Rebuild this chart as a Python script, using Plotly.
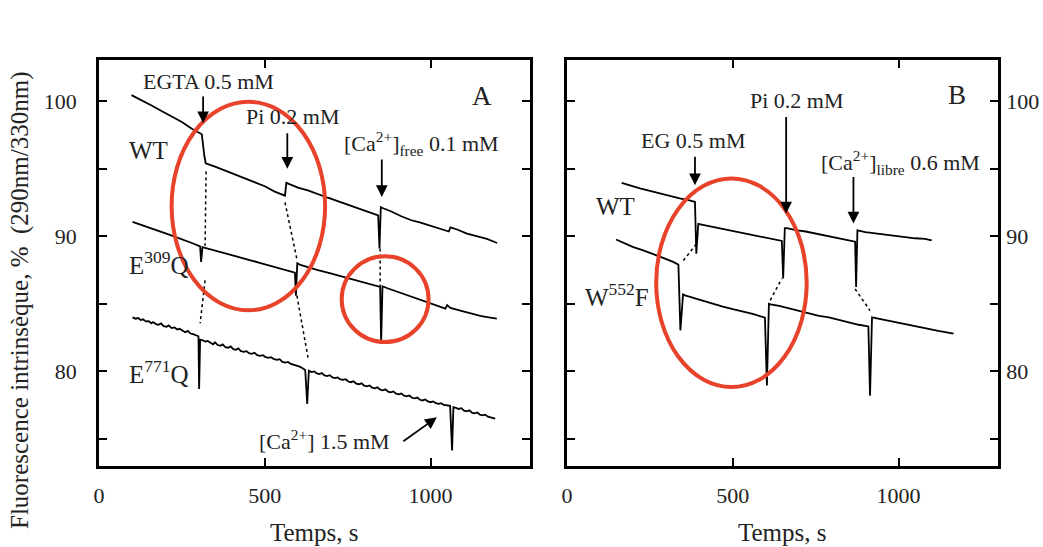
import plotly.graph_objects as go

# ---------------- data ----------------
# Panel A
a_wt_t = [98, 130, 160, 190, 220, 250, 280, 305, 310, 318, 322, 350, 380, 410, 440, 470, 500, 530, 561,
          565, 575, 600, 630, 660, 690, 720, 750, 780, 810, 842, 846, 850, 857, 880, 910, 940, 970, 1000,
          1030, 1055, 1060, 1080, 1110, 1140, 1170, 1201]
a_wt_f = [100.44, 100.05, 99.65, 99.25, 98.85, 98.45, 97.95, 97.6, 97.55, 95.9, 95.4, 95.15, 94.85, 94.55,
          94.3, 93.95, 93.7, 93.3, 93.0, 93.95, 93.85, 93.6, 93.4, 93.1, 92.85, 92.6, 92.35, 92.1, 91.8,
          91.55, 89.1, 92.15, 92.07, 91.85, 91.5, 91.2, 91.0, 90.75, 90.55, 90.35, 90.65, 90.5, 90.2, 90.0,
          89.8, 89.5]

a_e309_t = [101, 130, 160, 190, 220, 250, 280, 305, 308, 312, 340, 370, 400, 430, 460, 490, 520, 550, 591,
            594, 598, 605, 630, 660, 690, 720, 750, 780, 810, 848, 851, 855, 870, 900, 930, 960, 990, 1020,
            1045, 1050, 1060, 1090, 1120, 1150, 1175, 1200]
a_e309_f = [91.06, 90.8, 90.55, 90.3, 90.05, 89.8, 89.5, 89.25, 88.1, 89.2, 89.0, 88.8, 88.6, 88.4, 88.2,
            88.0, 87.8, 87.6, 87.3, 85.6, 88.0, 87.9, 87.7, 87.5, 87.3, 87.1, 86.9, 86.7, 86.5, 86.25, 82.05,
            86.3, 86.15, 85.9, 85.6, 85.35, 85.1, 84.85, 84.65, 84.9, 84.7, 84.5, 84.3, 84.1, 84.0, 83.9]

a_e771_t = [101, 110, 118, 126, 133, 141, 150, 158, 163, 172, 180, 187, 195, 204, 210, 219, 228, 236, 243,
            252, 260, 268, 276, 284, 292, 300, 302, 305, 313, 321, 328, 336, 344, 350, 358, 366, 373, 381,
            390, 397, 405, 413, 420, 428, 437, 445, 452, 461, 469, 477, 486, 494, 503, 511, 519, 528, 537,
            545, 553, 562, 570, 579, 588, 596, 605, 613, 622, 628, 633, 641, 649, 657, 665, 672, 680, 688,
            696, 704, 712, 720, 728, 736, 744, 752, 760, 768, 776, 784, 792, 800, 808, 816, 824, 832, 840,
            848, 856, 864, 872, 880, 888, 896, 904, 912, 920, 928, 936, 944, 952, 960, 968, 976, 984, 992,
            1000, 1008, 1016, 1024, 1032, 1040, 1048, 1059, 1065, 1069, 1077, 1085, 1093, 1101, 1109, 1117,
            1125, 1133, 1141, 1149, 1157, 1165, 1173, 1181, 1189, 1195]
a_e771_f = [84.0, 83.9, 83.95, 83.8, 83.85, 83.7, 83.72, 83.55, 83.65, 83.5, 83.45, 83.55, 83.35, 83.3,
            83.4, 83.2, 83.25, 83.1, 83.15, 83.0, 82.9, 83.0, 82.8, 82.75, 82.65, 82.6, 78.7, 82.35, 82.3,
            82.2, 82.25, 82.1, 82.0, 82.15, 81.95, 81.9, 82.0, 81.8, 81.75, 81.85, 81.65, 81.6, 81.7, 81.5,
            81.45, 81.5, 81.35, 81.3, 81.38, 81.2, 81.15, 81.2, 81.05, 81.0, 81.05, 80.9, 80.85, 80.9, 80.7,
            80.65, 80.7, 80.55, 80.5, 80.4, 80.35, 80.25, 80.1, 77.6, 80.05, 79.95, 80.0, 79.85, 79.8, 79.88,
            79.7, 79.65, 79.72, 79.55, 79.5, 79.55, 79.4, 79.38, 79.42, 79.25, 79.2, 79.27, 79.1, 79.05,
            79.12, 78.95, 78.9, 78.96, 78.8, 78.75, 78.82, 78.65, 78.6, 78.67, 78.5, 78.45, 78.52, 78.35,
            78.3, 78.36, 78.2, 78.15, 78.22, 78.05, 78.0, 78.06, 77.9, 77.85, 77.92, 77.78, 77.72, 77.78,
            77.65, 77.6, 77.65, 77.52, 77.5, 77.45, 74.15, 77.35, 77.3, 77.22, 77.28, 77.1, 77.05, 77.12,
            76.95, 76.9, 76.96, 76.8, 76.75, 76.8, 76.65, 76.6, 76.55, 76.5]

# Panel B
b_wt_t = [165, 190, 220, 250, 280, 310, 340, 370, 386, 390, 396, 399, 430, 460, 490, 520, 550, 580, 610,
          648, 652, 657, 663, 690, 720, 750, 780, 810, 840, 869, 872, 876, 900, 930, 960, 990, 1020, 1050,
          1080, 1100]
b_wt_f = [93.95, 93.75, 93.55, 93.35, 93.15, 93.0, 92.8, 92.65, 92.54, 88.7, 90.95, 90.9, 90.75, 90.6,
          90.45, 90.3, 90.15, 90.0, 89.85, 89.65, 86.87, 90.6, 90.6, 90.45, 90.35, 90.2, 90.05, 89.95, 89.8,
          89.6, 86.25, 90.44, 90.3, 90.2, 90.1, 90.0, 89.95, 89.85, 89.8, 89.7]

b_w552_t = [148, 170, 200, 230, 260, 290, 320, 336, 342, 350, 356, 380, 410, 440, 470, 500, 530, 560, 597,
            603, 609, 614, 640, 670, 700, 730, 760, 790, 820, 850, 880, 909, 914, 920, 924, 960, 1000, 1040,
            1080, 1120, 1166]
b_w552_f = [89.76, 89.5, 89.2, 88.95, 88.7, 88.4, 88.1, 87.9, 83.04, 85.7, 85.63, 85.45, 85.2, 85.0, 84.8,
            84.6, 84.45, 84.25, 83.98, 78.96, 85.0, 84.96, 84.85, 84.65, 84.45, 84.3, 84.1, 84.0, 83.8, 83.6,
            83.45, 83.33, 78.2, 84.0, 83.98, 83.8, 83.6, 83.35, 83.2, 83.0, 82.8]

# dotted connector segments (t pairs, F pairs)
a_dots = [([323, 320], [94.8, 89.3]), ([320, 305], [86.74, 83.56]), ([561, 597], [92.5, 88.3]),
          ([597, 632], [85.6, 80.8]), ([848, 848], [89.1, 86.3])]
b_dots = [([351, 391], [88.2, 89.46]), ([613, 648], [85.26, 86.87]), ([869, 914], [86.1, 84.5])]

# red ellipses (t0, t1, F0, F1)
a_ellipses = [(219, 682, 84.52, 99.95), (732, 994, 82.17, 88.52)]
b_ellipses = [(269, 723, 78.84, 94.27)]

x_ticks = [0, 500, 1000]
y_ticks = [75, 80, 85, 90, 95, 100]
y_ticktext = ["", "80", "", "90", "", "100"]

# ---------------- figure ----------------
W, H = 1043, 547
SERIF = "Liberation Serif, Times New Roman, serif"
RED = "#E8432A"

fig = go.Figure()

def add_line(t, f, xa, ya):
    fig.add_trace(go.Scatter(x=t, y=f, mode="lines", xaxis=xa, yaxis=ya,
                             line=dict(color="black", width=1.8), hoverinfo="skip", showlegend=False))

for t, f in [(a_wt_t, a_wt_f), (a_e309_t, a_e309_f), (a_e771_t, a_e771_f)]:
    add_line(t, f, "x", "y")
for t, f in [(b_wt_t, b_wt_f), (b_w552_t, b_w552_f)]:
    add_line(t, f, "x2", "y2")

for t, f in a_dots:
    fig.add_trace(go.Scatter(x=t, y=f, mode="lines", xaxis="x", yaxis="y",
                             line=dict(color="black", width=1.5, dash="dot"), hoverinfo="skip", showlegend=False))
for t, f in b_dots:
    fig.add_trace(go.Scatter(x=t, y=f, mode="lines", xaxis="x2", yaxis="y2",
                             line=dict(color="black", width=1.5, dash="dot"), hoverinfo="skip", showlegend=False))

for x0, x1, y0, y1 in a_ellipses:
    fig.add_shape(type="circle", xref="x", yref="y", x0=x0, x1=x1, y0=y0, y1=y1,
                  line=dict(color=RED, width=4))
for x0, x1, y0, y1 in b_ellipses:
    fig.add_shape(type="circle", xref="x2", yref="y2", x0=x0, x1=x1, y0=y0, y1=y1,
                  line=dict(color=RED, width=4))

def txt(x, y, s, xr, yr, size=22, **kw):
    fig.add_annotation(x=x, y=y, xref=xr, yref=yr, text=s, showarrow=False,
                       font=dict(family=SERIF, size=size, color="#222"), **kw)

def arrow(x, y, ax, ay, xr, yr):
    fig.add_annotation(x=x, y=y, xref=xr, yref=yr, text="", showarrow=True, ax=ax, ay=ay,
                       arrowhead=2, arrowsize=1.3, arrowwidth=1.8, arrowcolor="black")

# Panel A texts
txt(329, 101.43, "EGTA 0.5 mM", "x", "y")
arrow(314, 98.37, 0, -28, "x", "y")
txt(585, 98.84, "Pi 0.2 mM", "x", "y")
arrow(568, 95.0, 0, -37, "x", "y")
txt(974, 96.87, "[Ca<sup>2+</sup>]<sub>free</sub> 0.1 mM", "x", "y")
arrow(853, 92.9, 0, -39, "x", "y")
txt(1155, 100.37, "A", "x", "y", size=27)
txt(148, 96.37, "WT", "x", "y", size=25)
txt(182, 88.05, "E<sup>309</sup>Q", "x", "y", size=25)
txt(182, 79.95, "E<sup>771</sup>Q", "x", "y", size=25)
txt(679, 74.89, "[Ca<sup>2+</sup>] 1.5 mM", "x", "y")
arrow(1019, 76.6, -35, 25, "x", "y")

# Panel B texts
txt(1176, 100.44, "B", "x2", "y2", size=27)
txt(693, 100.07, "Pi 0.2 mM", "x2", "y2")
arrow(661, 91.68, 0, -98, "x2", "y2")
txt(381, 97.11, "EG 0.5 mM", "x2", "y2")
arrow(386, 93.78, 0, -30, "x2", "y2")
txt(1007, 95.43, "[Ca<sup>2+</sup>]<sub>libre</sub> 0.6 mM", "x2", "y2")
arrow(864, 90.94, 0, -48, "x2", "y2")
txt(145, 92.17, "WT", "x2", "y2", size=25)
txt(150, 85.63, "W<sup>552</sup>F", "x2", "y2", size=25)

# axis titles
for cx in (314.5, 782.5):
    fig.add_annotation(x=cx / W, y=1 - 532 / H, xref="paper", yref="paper", text="Temps, s",
                       xanchor="center", yanchor="middle",
                       showarrow=False, font=dict(family=SERIF, size=25, color="#222"))
fig.add_annotation(x=20 / W, y=1 - 300 / H, xref="paper", yref="paper",
                   text="Fluorescence intrinsèque, %\u00a0\u00a0(290nm/330nm)", textangle=-90,
                   xanchor="center", yanchor="middle",
                   showarrow=False, font=dict(family=SERIF, size=25, color="#222"))

ydom = [(H - 466) / H, (H - 60) / H]
common_x = dict(range=[0, 1300], tickvals=x_ticks, ticks="inside", ticklen=8, tickwidth=2,
                showline=True, linewidth=2.5, linecolor="black", mirror="ticks", showgrid=False,
                zeroline=False, tickfont=dict(family=SERIF, size=22, color="#222"),
                ticklabelstandoff=8, tickcolor="black", automargin=False)
common_y = dict(range=[73, 103.04], tickvals=y_ticks, ticktext=y_ticktext, ticks="inside", ticklen=8,
                tickwidth=2, showline=True, linewidth=2.5, linecolor="black", mirror="ticks",
                showgrid=False, zeroline=False, tickfont=dict(family=SERIF, size=22, color="#222"),
                tickcolor="black", domain=ydom, automargin=False)

fig.update_layout(
    width=W, height=H, margin=dict(l=0, r=0, t=0, b=0),
    paper_bgcolor="white", plot_bgcolor="white", showlegend=False,
    xaxis=dict(domain=[99 / W, 530 / W], anchor="y", **common_x),
    yaxis=dict(anchor="x", side="left", ticklabelstandoff=15, **common_y),
    xaxis2=dict(domain=[567 / W, 998 / W], anchor="y2", **common_x),
    yaxis2=dict(anchor="x2", side="right", ticklabelstandoff=1, **common_y),
)

fig.write_html("out.html", config={"displayModeBar": False},
               post_script="document.body.style.margin='0';")
